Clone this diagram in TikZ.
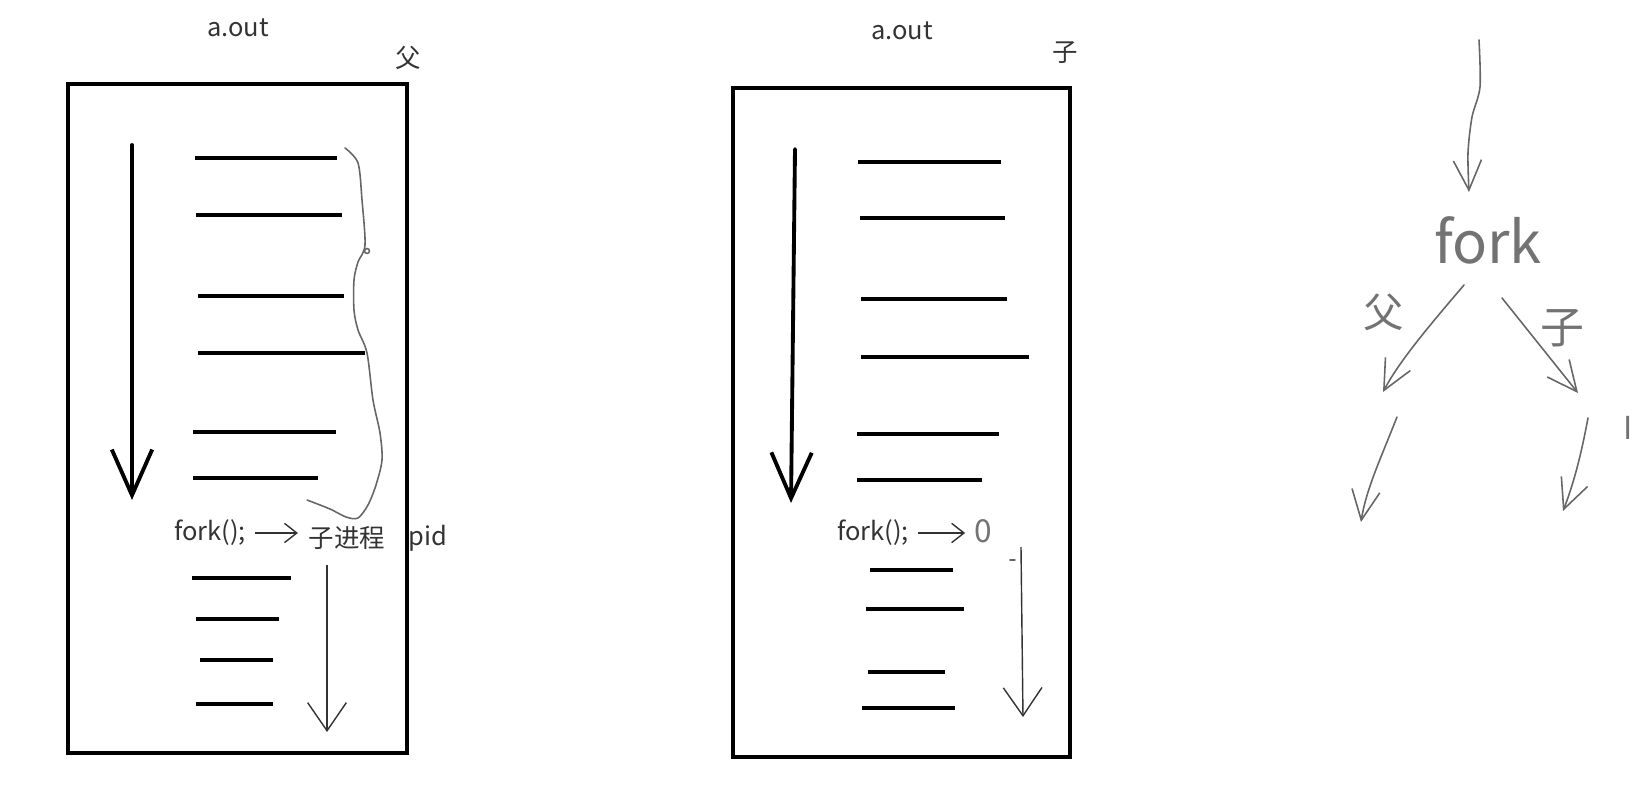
\documentclass[tikz,border=0pt]{standalone}
\usepackage{fontspec}
\setmainfont{Noto Sans CJK SC}
\usepackage{tikz}
\usetikzlibrary{arrows.meta}
\usetikzlibrary{positioning}
\tikzstyle{progbox} = [draw, line width=2.4pt]
\tikzstyle{codeline} = [line width=2.8pt]
\tikzstyle{flow} = [line width=2.2pt, line cap=round,
    -{Straight Barb[length=26pt, width=23pt, line width=2.2pt]}]
\tikzstyle{thinflow} = [line width=0.8pt, draw=black!80,
    -{Straight Barb[length=16pt, width=22pt, line width=0.8pt]}]
\tikzstyle{hand} = [draw=black!60, line width=0.9pt, line cap=round, line join=round]
\tikzstyle{handarrow} = [hand, -{Straight Barb[length=17pt, width=16pt, line width=0.9pt]}]
\tikzstyle{plaintext} = [text=black!80, inner sep=0pt,
    font=\fontsize{14.5}{16}\selectfont]
\tikzstyle{handtext} = [text=black!55, inner sep=0pt]

\begin{document}
\begin{tikzpicture}[x=0.02cm, y=-0.02cm]
    \useasboundingbox (0,0) rectangle (1651,793);

    % Parent program
    \draw [progbox] (68,84) rectangle (407,753);
    \node [plaintext] (aout1) at (238,28) {a.out};
    \node [plaintext] (fu1) at (408,58) {父};
    \foreach \y/\a/\b in {158/195/337, 215/196/342, 296/198/344, 353/198/365,
        432/193/336, 478/193/318, 578/192/291, 619/196/279, 660/200/273, 704/196/273}
        \draw [codeline] (\a,\y) -- (\b,\y);
    \coordinate (top1) at (132,145);
    \coordinate (tip1) at (132,500);
    \draw [flow] (top1) -- (tip1);
    \draw [hand] plot[smooth] coordinates {(345,148) (358,163) (362,200) (365,245)
        (358,262) (354,280) (354,310) (358,330) (367,353) (373,400) (380,433)
        (382,460) (376,485) (368,505) (358,518) (346,517) (330,509) (307,500)};
    \draw [hand] (367,251) circle (2.5);
    \node [plaintext] (fork1) at (210,533) {fork();};
    \node [plaintext] (child1) at (347,538) {子进程};
    \node [plaintext] (pid1) at (428,538) {pid};
    \draw [thinflow, -{Straight Barb[length=7pt, width=11pt, line width=0.8pt]},
        shorten <=5pt, shorten >=6pt] (fork1.east) -- (fork1.east -| child1.west);
    \coordinate (start1) at (327,565);
    \coordinate (end1) at (327,732);
    \draw [thinflow] (start1) -- (end1);

    % Child program
    \draw [progbox] (733,88) rectangle (1070,757);
    \node [plaintext] (aout2) at (902,31) {a.out};
    \node [plaintext] (zi2) at (1065,53) {子};
    \foreach \y/\a/\b in {162/858/1001, 218/860/1005, 299/861/1007, 357/861/1029,
        434/857/999, 480/857/982, 570/870/953, 609/866/964, 672/868/945, 708/862/955}
        \draw [codeline] (\a,\y) -- (\b,\y);
    \coordinate (top2) at (795,149);
    \coordinate (tip2) at (791,503);
    \draw [flow] (top2) -- (tip2);
    \node [plaintext] (fork2) at (873,533) {fork();};
    \node [handtext, font=\fontsize{18}{20}\selectfont] (zero2) at (983,531) {0};
    \draw [thinflow, -{Straight Barb[length=7pt, width=11pt, line width=0.8pt]},
        shorten <=5pt, shorten >=5pt] (fork2.east) -- (fork2.east -| zero2.west);
    \draw [hand] (1010,560) -- (1015,560);
    \coordinate (start2) at (1021,547);
    \coordinate (end2) at (1023,717);
    \draw [thinflow] (start2) -- (end2);

    % Sketch of the fork
    \node [handtext, font=\fontsize{33}{35}\selectfont] (fork3) at (1488,240) {fork};
    \coordinate (start3) at (1479,40);
    \draw [handarrow] plot[smooth] coordinates {(start3) (1480,87) (1472,117)
        (1468,153) (1469,192)};
    \coordinate (left3) at (1383,392);
    \coordinate (right3) at (1578,393);
    \draw [handarrow] (1464,285) .. controls (1430,325) and (1400,360) .. (left3);
    \draw [handarrow] (1502,298) -- (right3);
    \node [handtext, font=\fontsize{23}{25}\selectfont] (fu3) at (1384,312) {父};
    \node [handtext, font=\fontsize{25}{27}\selectfont] (zi3) at (1562,328) {子};
    \coordinate (leftend3) at (1361,522);
    \coordinate (rightend3) at (1563,511);
    \draw [handarrow] (1397,417) .. controls (1380,460) and (1366,490) .. (leftend3);
    \draw [handarrow] (1588,418) .. controls (1582,450) and (1575,480) .. (rightend3);
    \node [handtext, font=\rmfamily\fontsize{18}{20}\selectfont] (cursor3) at (1628,428) {I};
\end{tikzpicture}
\end{document}
